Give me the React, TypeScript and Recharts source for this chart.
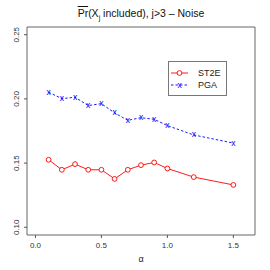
import { Line, LineChart, ReferenceArea, XAxis, YAxis } from "recharts";

const alphas = [0.1, 0.2, 0.3, 0.4, 0.5, 0.6, 0.7, 0.8, 0.9, 1.0, 1.2, 1.5];
const st2e = [0.1526, 0.1448, 0.1492, 0.1448, 0.1448, 0.1377, 0.1448, 0.1484, 0.1505, 0.1458, 0.1391, 0.133];
const pga = [0.2052, 0.2002, 0.2013, 0.1948, 0.1963, 0.1891, 0.1833, 0.1854, 0.1841, 0.1792, 0.1719, 0.1656];
const xTicks = [0, 0.5, 1, 1.5];
const yTicks = [0.1, 0.15, 0.2, 0.25];

const data = alphas.map((a, i) => ({ alpha: a, st2e: st2e[i], pga: pga[i] }));

const xDomain = [-0.064, 1.664];
const yDomain = [0.094, 0.256];

const font = '"Liberation Sans", Arial, sans-serif';

function CircleDot(props: any) {
  const { cx, cy } = props;
  if (cx == null || cy == null) return null;
  return <circle cx={cx} cy={cy} r={2.4} fill="#fff" stroke="#ff0000" strokeWidth={0.9} />;
}

function CrossDot(props: any) {
  const { cx, cy } = props;
  if (cx == null || cy == null) return null;
  return (
    <text x={cx} y={cy + 2.5} textAnchor="middle" fontSize={8.5} fill="#0000ff" fontFamily={font}>
      x
    </text>
  );
}

function YTick(props: any) {
  const { x, y, payload } = props;
  return (
    <text
      x={x + 0.5}
      y={y}
      transform={`rotate(-90, ${x + 0.5}, ${y})`}
      textAnchor="middle"
      fontSize={8}
      fill="#333"
      fontFamily={font}
    >
      {payload.value.toFixed(2)}
    </text>
  );
}

// legend drawn as an overlay so it takes no room from the plot
function LegendBox() {
  const rows = [
    { name: "ST2E", color: "#ff0000", dash: undefined, mark: "o" },
    { name: "PGA", color: "#0000ff", dash: "2.5 2", mark: "x" },
  ];
  return (
    <div
      style={{
        position: "absolute",
        left: 168,
        top: 61,
        border: "1px solid #777",
        background: "#fff",
        width: 57,
        height: 28,
        paddingTop: 5,
      }}
    >
      {rows.map((r) => (
        <div key={r.name} style={{ display: "flex", alignItems: "center", height: 12, fontFamily: font, fontSize: 9, color: "#222" }}>
          <svg width={26} height={12} style={{ marginLeft: 1 }}>
            <line x1={1} x2={18} y1={6} y2={6} stroke={r.color} strokeWidth={0.9} strokeDasharray={r.dash} />
            {r.mark === "o" ? (
              <circle cx={9.5} cy={6} r={2.4} fill="#fff" stroke={r.color} strokeWidth={0.9} />
            ) : (
              <text x={9.5} y={8.5} textAnchor="middle" fontSize={8.5} fill={r.color} fontFamily={font}>
                x
              </text>
            )}
          </svg>
          <span style={{ marginLeft: 2 }}>{r.name}</span>
        </div>
      ))}
    </div>
  );
}

export default function App() {
  return (
    <div style={{ position: "absolute", left: 0, top: 0, width: 270, height: 270, background: "#fff", fontFamily: font }}>
      <LineChart width={270} height={270} data={data} margin={{ top: 27, right: 15, bottom: 0, left: 0 }}>
        <XAxis
          dataKey="alpha"
          type="number"
          domain={xDomain}
          ticks={xTicks}
          allowDataOverflow
          axisLine={false}
          tickLine={{ stroke: "#555" }}
          tickSize={3}
          tickMargin={4}
          height={35}
          tick={{ fontSize: 8, fill: "#333", fontFamily: font }}
          tickFormatter={(v: number) => v.toFixed(1)}
          label={{ value: "α", position: "insideBottom", offset: 8, fontSize: 9, fill: "#222" }}
        />
        <YAxis
          type="number"
          domain={yDomain}
          ticks={yTicks}
          allowDataOverflow
          axisLine={false}
          tickLine={{ stroke: "#555" }}
          tickSize={3}
          tickMargin={5}
          width={27}
          tick={<YTick />}
        />
        <ReferenceArea
          x1={xDomain[0]}
          x2={xDomain[1]}
          y1={yDomain[0]}
          y2={yDomain[1]}
          fill="none"
          stroke="#666"
          strokeWidth={1}
          fillOpacity={0}
        />
        <Line
          dataKey="st2e"
          stroke="#ff0000"
          strokeWidth={0.9}
          dot={<CircleDot />}
          activeDot={false}
          isAnimationActive={false}
        />
        <Line
          dataKey="pga"
          stroke="#0000ff"
          strokeWidth={0.9}
          strokeDasharray="2.5 2"
          dot={<CrossDot />}
          activeDot={false}
          isAnimationActive={false}
        />
      </LineChart>
      <div
        style={{
          position: "absolute",
          left: 0,
          top: 7,
          width: 282,
          textAlign: "center",
          fontSize: 10.5,
          lineHeight: "12px",
          color: "#111",
        }}
      >
        <span style={{ textDecoration: "overline" }}>Pr</span>(X<sub style={{ fontSize: 7 }}>j</sub> included), j&gt;3 – Noise
      </div>
      <LegendBox />
    </div>
  );
}
